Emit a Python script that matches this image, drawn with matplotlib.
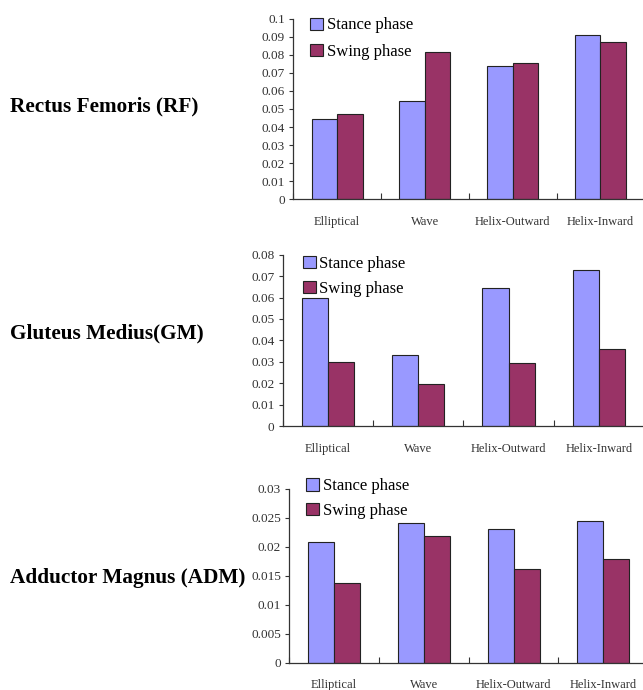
import matplotlib
matplotlib.use("Agg")
import matplotlib.pyplot as plt
import numpy as np
from matplotlib.ticker import FuncFormatter, FixedLocator

categories = ["Elliptical", "Wave", "Helix-Outward", "Helix-Inward"]
series_names = ["Stance phase", "Swing phase"]

rf_stance = [0.0445, 0.0542, 0.0736, 0.0910]
rf_swing = [0.0474, 0.0814, 0.0755, 0.0871]

gm_stance = [0.0600, 0.0332, 0.0646, 0.0727]
gm_swing = [0.0297, 0.0196, 0.0293, 0.0360]

adm_stance = [0.0208, 0.0240, 0.0230, 0.0244]
adm_swing = [0.0137, 0.0218, 0.0161, 0.0178]

panel_titles = ["Rectus Femoris (RF)", "Gluteus Medius(GM)", "Adductor Magnus (ADM)"]
y_max = [0.1, 0.08, 0.03]
y_step = [0.01, 0.01, 0.005]

stance_color = "#9999FF"
swing_color = "#993366"

fig = plt.figure(figsize=(6.43, 6.90), dpi=100)

axes_rects = [
    [0.456, 0.7112, 0.546, 0.2617],
    [0.4397, 0.3826, 0.562, 0.2483],
    [0.450, 0.0396, 0.558, 0.2522],
]
legend_anchor = [(0.482, 0.9747), (0.4707, 0.629), (0.476, 0.3067)]
legend_spacing = [0.63, 0.55, 0.52]
title_y = [0.846, 0.517, 0.163]

data = [(rf_stance, rf_swing), (gm_stance, gm_swing), (adm_stance, adm_swing)]

serif = ["Liberation Serif", "DejaVu Serif"]
w = 0.29
x = np.arange(len(categories))

for k, (stance, swing) in enumerate(data):
    ax = fig.add_axes(axes_rects[k])
    ax.bar(x - w / 2, stance, w, color=stance_color, edgecolor="#222222",
           linewidth=0.8, label=series_names[0], zorder=2)
    ax.bar(x + w / 2, swing, w, color=swing_color, edgecolor="#222222",
           linewidth=0.8, label=series_names[1], zorder=2)
    ax.set_xlim(-0.5, 3.5)
    ax.set_ylim(0, y_max[k])
    ticks = np.round(np.arange(0, y_max[k] + y_step[k] / 2, y_step[k]), 4)
    ax.yaxis.set_major_locator(FixedLocator(ticks))
    ax.yaxis.set_major_formatter(FuncFormatter(lambda v, p: f"{round(v, 4):g}"))
    # x ticks: boundaries (marks) and centers (labels)
    ax.xaxis.set_major_locator(FixedLocator([-0.5, 0.5, 1.5, 2.5, 3.5]))
    ax.xaxis.set_major_formatter(FuncFormatter(lambda v, p: ""))
    ax.xaxis.set_minor_locator(FixedLocator(list(x)))
    ax.set_xticklabels(categories, minor=True, fontfamily=serif, fontsize=9, color="#333333")
    ax.tick_params(axis="x", which="major", direction="in", length=4, width=0.8, color="#333333")
    ax.tick_params(axis="x", which="minor", length=0, pad=12)
    ax.tick_params(axis="y", direction="out", length=3, width=0.8, color="#333333", pad=3)
    for lab in ax.get_yticklabels():
        lab.set_fontfamily(serif)
        lab.set_fontsize(9.5)
        lab.set_color("#333333")
    for s in ["top", "right"]:
        ax.spines[s].set_visible(False)
    for s in ["left", "bottom"]:
        ax.spines[s].set_color("#333333")
        ax.spines[s].set_linewidth(0.9)
    ax.legend(loc="upper left", bbox_to_anchor=legend_anchor[k], bbox_transform=fig.transFigure,
              frameon=False, borderpad=0, borderaxespad=0, handlelength=0.78, handleheight=0.75,
              handletextpad=0.22, labelspacing=legend_spacing[k],
              prop={"family": serif, "size": 12})
    fig.text(0.016, title_y[k], panel_titles[k], fontfamily=serif, fontweight="bold",
             fontsize=15.3, ha="left", va="center", color="black")

fig.savefig("out.png", dpi=100)
